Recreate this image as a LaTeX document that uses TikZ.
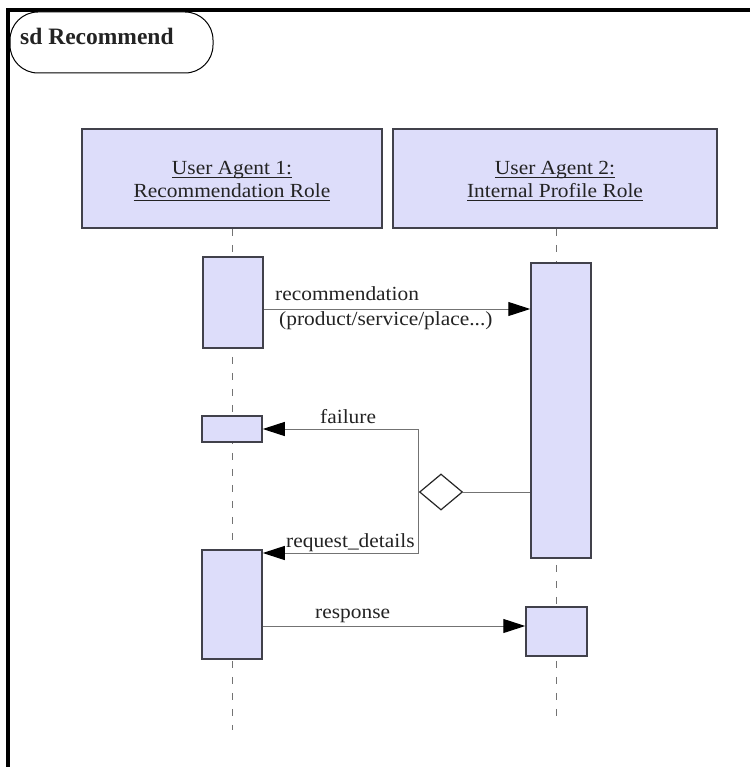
\documentclass[tikz,border=0pt]{standalone}
\usepackage{fontspec}
\setmainfont{Liberation Serif}
\newfontfamily\widefont{Liberation Serif}[FakeStretch=1.07]
\usetikzlibrary{arrows.meta,shapes.geometric}
\definecolor{actfill}{RGB}{221,221,250}
\definecolor{edge}{RGB}{65,65,75}
\definecolor{wire}{RGB}{115,115,115}
\definecolor{ink}{RGB}{35,35,35}
% underlined instance name with a visible rule
\newcommand\instname[1]{\setbox0\hbox{#1}\rlap{\rule[-3pt]{\wd0}{1.1pt}}\box0}
\tikzset{
  lifebox/.style={draw=edge, line width=1.5pt, fill=actfill, inner sep=0pt},
  actbar/.style={draw=edge, line width=1.5pt, fill=actfill, inner sep=0pt},
  lifeline/.style={draw=wire, dash pattern=on 7pt off 9pt, line width=1pt},
  msg/.style={draw=wire, line width=1pt, -{Triangle[length=22pt,width=14pt,color=black]}},
  plainwire/.style={draw=wire, line width=1pt},
  msglbl/.style={font=\widefont\fontsize{20}{20}\selectfont, text=ink, inner sep=0pt, anchor=base west},
  boxlbl/.style={font=\widefont\fontsize{20}{20}\selectfont, text=ink, inner sep=0pt, anchor=base},
  choice/.style={diamond, draw=black!85, line width=1.2pt, fill=white, inner sep=0pt,
                 minimum width=43pt, minimum height=36pt}
}
\begin{document}
\begin{tikzpicture}[x=1pt,y=-1pt]
\useasboundingbox (0,0) rectangle (750,767);

% diagram frame and name tab
\draw[line width=4pt] (8,767) -- (8,10) -- (750,10);
\draw[line width=1pt, fill=white, rounded corners=28pt] (10,12) rectangle (213,73);
\node[anchor=base west, font=\bfseries\fontsize{23.5}{24}\selectfont, text=ink, inner sep=0pt]
  (title) at (20,45) {sd Recommend};

% lifeline heads
\node[lifebox, minimum width=300pt, minimum height=99pt] (L1) at (232,178.5) {};
\node[lifebox, minimum width=324pt, minimum height=99pt] (L2) at (555,178.5) {};
\node[boxlbl] (L1a) at (232,175) {\instname{User Agent 1:}};
\node[boxlbl] (L1b) at (232,198) {\instname{Recommendation Role}};
\node[boxlbl] (L2a) at (555,175) {\instname{User Agent 2:}};
\node[boxlbl] (L2b) at (555,198) {\instname{Internal Profile Role}};

% dashed lifelines
\coordinate (E1) at (232,730);
\coordinate (E2) at (556,722);
\draw[lifeline] (L1.south) -- (E1);
\draw[lifeline] (L2.south -| E2) -- (E2);

% activation bars
\node[actbar, minimum width=60pt, minimum height=91pt]  (A1) at (233,302.5) {};
\node[actbar, minimum width=60pt, minimum height=295pt] (A2) at (561,410.5) {};
\node[actbar, minimum width=60pt, minimum height=26pt]  (A3) at (232,429) {};
\node[actbar, minimum width=60pt, minimum height=109pt] (A4) at (232,604.5) {};
\node[actbar, minimum width=61pt, minimum height=49pt]  (A5) at (556.5,631.5) {};

% decision
\node[choice] (D) at (441,492) {};

% messages
\coordinate (m1) at (0,309);
\coordinate (m3) at (0,553);
\coordinate (m4) at (0,626);
\draw[msg] (A1.east |- m1) -- (A2.west |- m1);
\draw[plainwire] (D.east) -- (A2.west |- D.east);
\draw[msg] (D.west) -- (D.west |- A3.east) -- (A3.east);
\draw[msg] (D.west) -- (D.west |- m3) -- (A4.east |- m3);
\draw[msg] (A4.east |- m4) -- (A5.west |- m4);

% message labels
\node[msglbl] (t1) at (275,300) {recommendation};
\node[msglbl] (t2) at (279,325) {(product/service/place...)};
\node[msglbl] (t3) at (320,423) {failure};
\node[msglbl] (t4) at (286,547) {request\_details};
\node[msglbl] (t5) at (315,618) {response};
\end{tikzpicture}
\end{document}
